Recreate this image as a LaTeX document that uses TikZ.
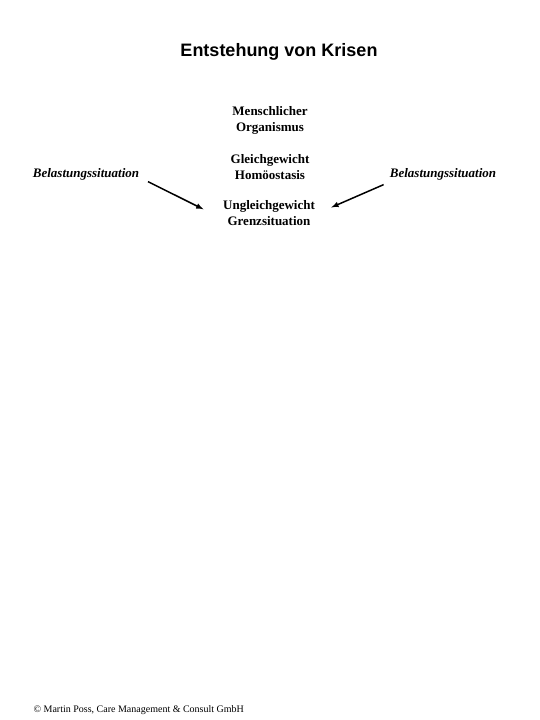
\documentclass[tikz,border=0pt]{standalone}
\usepackage{fontspec}
\setmainfont{Liberation Serif}
\newfontfamily\arialfont{Liberation Sans}
\usepackage{tikz}

\tikzset{
  lbl/.style = {align=center, font=\fontsize{13}{16}\selectfont\bfseries},
  sidelbl/.style = {font=\fontsize{13}{16}\selectfont\bfseries\itshape},
  pfeil/.style = {-latex, line width=1.5pt}
}

\begin{document}
\begin{tikzpicture}[x=1pt, y=-1pt]
\useasboundingbox (0,0) rectangle (540,720);
\node (titel) [font=\arialfont\fontsize{18}{20}\selectfont\bfseries] at (279,52) {Entstehung von Krisen};
\node (mensch) [lbl] at (270,120) {Menschlicher\\Organismus}; %0
\node (gleich) [lbl] at (270,167) {Gleichgewicht\\Hom\"oostasis}; %1
\node (ungl) [lbl] at (269,213) {Ungleichgewicht\\Grenzsituation}; %2
\node (lbel) [sidelbl] at (86,174) {Belastungssituation};
\node (rbel) [sidelbl] at (443,174) {Belastungssituation};
\draw[pfeil, shorten <= 6pt, shorten >= 18pt] (lbel.-5) -- (ungl.185);
\draw[pfeil, shorten <= 3pt, shorten >= 14pt] (rbel.south west) -- (ungl.east);
\node (fuss) [anchor=west, font=\fontsize{10}{12}\selectfont] at (30,710) {\textcopyright{} Martin Poss, Care Management \& Consult GmbH};
\end{tikzpicture}
\end{document}
